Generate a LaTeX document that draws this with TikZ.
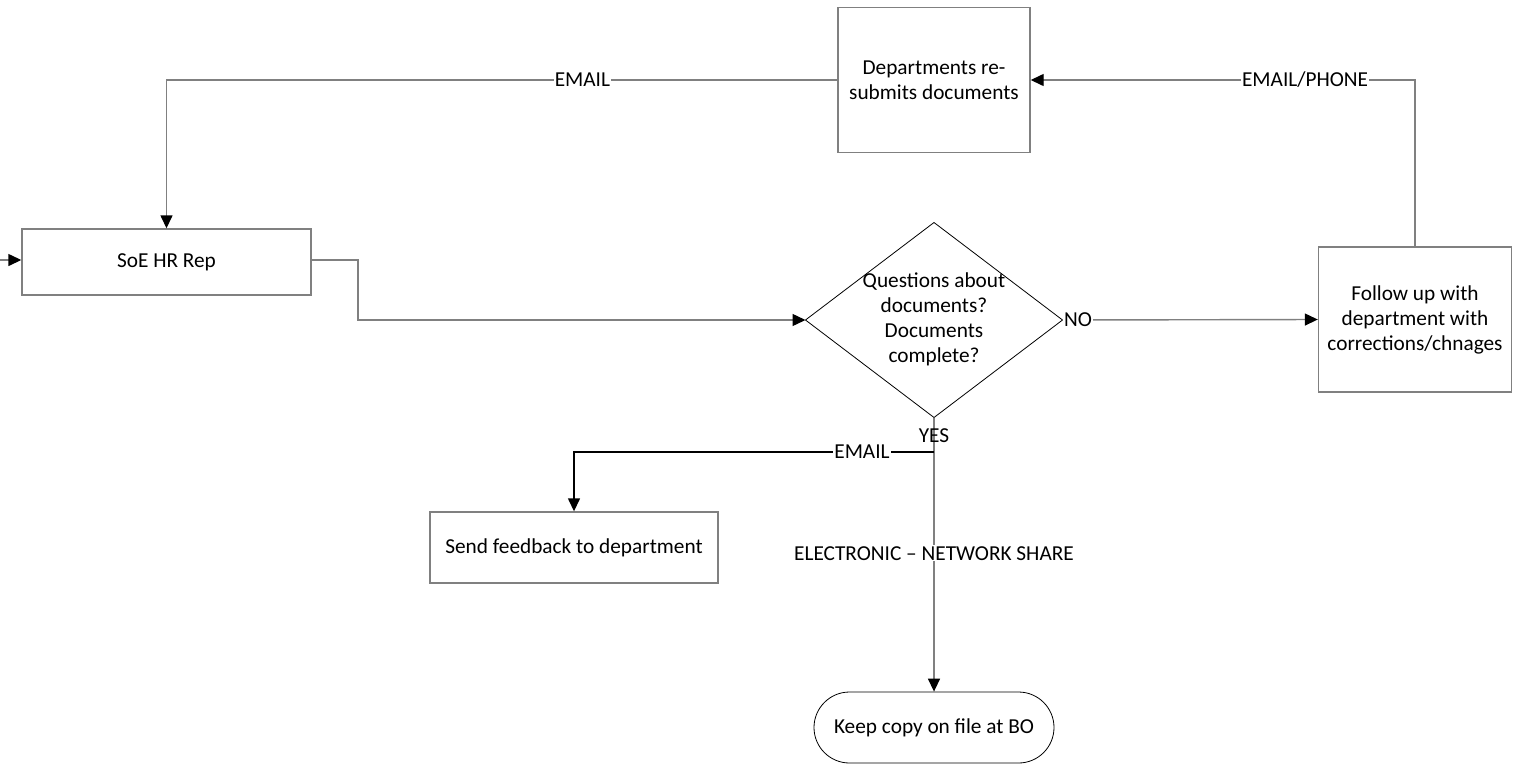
\documentclass[tikz,border=0pt]{standalone}
\usepackage{fontspec}
\setmainfont{Carlito}
\usetikzlibrary{shapes.geometric,shapes.misc,arrows.meta,positioning}
\tikzset{
  txt/.style={font=\fontsize{21.3}{25}\selectfont, text=black},
  box/.style={draw=black!50, line width=1.4pt, align=center, txt, inner sep=0pt},
  conn/.style={draw=black!50, line width=1.4pt},
  arr/.style={conn, -{Triangle[length=13pt,width=12pt,fill=black,color=black]}},
  lbl/.style={fill=white, inner sep=1pt, txt},
}
\begin{document}
\begin{tikzpicture}[x=1pt,y=-1pt]
\useasboundingbox (0,0) rectangle (1526,764);
\fill[white] (0,0) rectangle (1526,764);
\node[box, minimum width=289pt, minimum height=66pt] (hr) at (166.5,262) {SoE HR Rep};
\node[box, minimum width=192pt, minimum height=145pt] (dept) at (934,80) {Departments re-\\submits documents};
\node[diamond, draw=black, line width=0.8pt, aspect=1.314, minimum width=257pt, minimum height=195pt, inner sep=0pt, outer sep=0pt] (q) at (934,320) {};
\node[txt, align=center, inner sep=0pt] (qt) at (934,319) {Questions about\\documents?\\Documents\\complete?};
\node[box, minimum width=193pt, minimum height=145pt] (fu) at (1415,319.5) {Follow up with\\department with\\corrections/chnages};
\node[box, minimum width=288pt, minimum height=71pt] (fb) at (574,547.5) {Send feedback to department};
\node[rounded rectangle, draw=black, line width=0.8pt, minimum width=240pt, minimum height=71pt, inner sep=0pt, txt] (keep) at (934,727.5) {Keep copy on file at BO};
\coordinate (in) at (0,260);
\coordinate (br) at (934,452);
\draw[arr] (in) -- (in -| hr.west);
\draw[arr] (hr.east |- in) -- (358,260) |- (q.west);
\draw[arr] (q.east) -- node[pos=0, anchor=west, lbl, inner sep=1pt] {NO} (fu.west);
\draw[arr] (fu.north) |- node[pos=0.643, lbl] {EMAIL/PHONE} (dept.east);
\draw[arr] (dept.west) -| node[pos=0.19, lbl] {EMAIL} (hr.north);
\draw[arr] (q.south) -- node[pos=0.066, txt] {YES} node[pos=0.495, lbl] {ELECTRONIC -- NETWORK SHARE} (keep.north);
\draw[arr, draw=black] (br) -| node[pos=0.1, lbl] {EMAIL} (fb.north);
\end{tikzpicture}
\end{document}
